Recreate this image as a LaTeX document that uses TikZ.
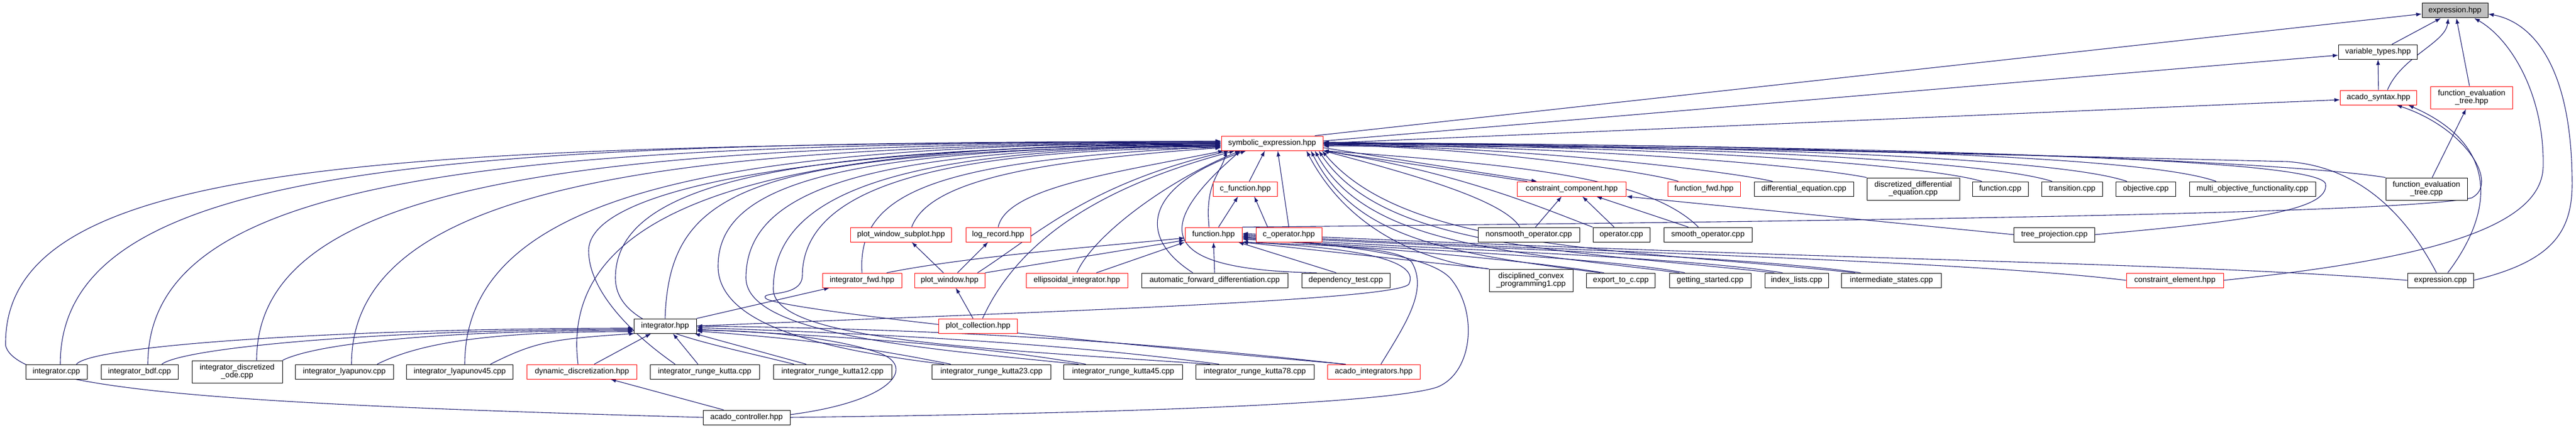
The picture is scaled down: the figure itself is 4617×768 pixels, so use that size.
\documentclass[tikz,border=0pt]{standalone}
\usepackage{fontspec}
\setmainfont{Liberation Sans}
\usetikzlibrary{arrows.meta,backgrounds}
\definecolor{edgeblue}{HTML}{191970}
\definecolor{rootgray}{HTML}{BFBFBF}
\tikzset{
  file/.style={draw=black, fill=white, line width=1pt, inner sep=0pt,
    minimum height=26pt, align=center, font=\fontsize{14}{14}\selectfont},
  redfile/.style={file, draw=red},
  rootfile/.style={file, fill=rootgray},
  twolines/.style={minimum height=40pt},
  inc/.style={draw=edgeblue, line width=1.1pt, -{Latex[length=10pt,width=7pt]}},
}
\begin{document}
\begin{tikzpicture}[x=1pt,y=-1pt]
      \useasboundingbox (0,0) rectangle (4617,768);
      \begin{scope}[on background layer]
        \fill[white] (0,0) rectangle (4617,768);
      \end{scope}
      \draw
        (4400,19) node[rootfile, minimum width=118pt] (exphpp) {expression.hpp}
        (4262,93) node[file, minimum width=141pt] (vartypes) {variable\_types.hpp}
        (4263,175) node[redfile, minimum width=137pt] (syntax) {acado\_syntax.hpp}
        (4430,175) node[redfile, twolines, minimum width=147pt] (fethpp) {function\_evaluation\\\_tree.hpp}
        (2280,257) node[redfile, minimum width=182pt] (symb) {symbolic\_expression.hpp}
        (2232,339) node[redfile, minimum width=115pt] (cfunc) {c\_function.hpp}
        (2817,339) node[redfile, minimum width=195pt] (ccomp) {constraint\_component.hpp}
        (3054,339) node[redfile, minimum width=130pt] (ffwd) {function\_fwd.hpp}
        (3233,339) node[file, minimum width=178pt] (diffeq) {differential\_equation.cpp}
        (3429,339) node[file, twolines, minimum width=166pt] (discde) {discretized\_differential\\\_equation.cpp}
        (3585,339) node[file, minimum width=100pt] (funccpp) {function.cpp}
        (3714,339) node[file, minimum width=109pt] (transcpp) {transition.cpp}
        (3846,339) node[file, minimum width=107pt] (objcpp) {objective.cpp}
        (4037,339) node[file, minimum width=226pt] (multiobj) {multi\_objective\_functionality.cpp}
        (4349,339) node[file, twolines, minimum width=146pt] (fetcpp) {function\_evaluation\\\_tree.cpp}
        (1615,421) node[redfile, minimum width=181pt] (pwsub) {plot\_window\_subplot.hpp}
        (1789,421) node[redfile, minimum width=116pt] (logrec) {log\_record.hpp}
        (2175,421) node[redfile, minimum width=102pt] (funchpp) {function.hpp}
        (2310,421) node[redfile, minimum width=118pt] (cop) {c\_operator.hpp}
        (2740,421) node[file, minimum width=182pt] (nonsmooth) {nonsmooth\_operator.cpp}
        (2906,421) node[file, minimum width=102pt] (opcpp) {operator.cpp}
        (3061,421) node[file, minimum width=158pt] (smooth) {smooth\_operator.cpp}
        (3682,421) node[file, minimum width=145pt] (treeproj) {tree\_projection.cpp}
        (1545,503) node[redfile, minimum width=142pt] (intfwd) {integrator\_fwd.hpp}
        (1702,503) node[redfile, minimum width=126pt] (plotwin) {plot\_window.hpp}
        (1930,503) node[redfile, minimum width=182pt] (ellint) {ellipsoidal\_integrator.hpp}
        (2177,503) node[file, minimum width=262pt] (autofwd) {automatic\_forward\_differentiation.cpp}
        (2412,503) node[file, minimum width=158pt] (deptest) {dependency\_test.cpp}
        (2744,503) node[file, twolines, minimum width=150pt] (dcp) {disciplined\_convex\\\_programming1.cpp}
        (2905,503) node[file, minimum width=123pt] (exportc) {export\_to\_c.cpp}
        (3065,503) node[file, minimum width=146pt] (getstart) {getting\_started.cpp}
        (3220,503) node[file, minimum width=114pt] (idxlist) {index\_lists.cpp}
        (3390,503) node[file, minimum width=179pt] (interstate) {intermediate\_states.cpp}
        (3898,503) node[redfile, minimum width=174pt] (celem) {constraint\_element.hpp}
        (4374,503) node[file, minimum width=118pt] (expcpp) {expression.cpp}
        (1192,585) node[file, minimum width=112pt] (inthpp) {integrator.hpp}
        (1753,585) node[redfile, minimum width=141pt] (plotcoll) {plot\_collection.hpp}
        (101,667) node[file, minimum width=110pt] (intcpp) {integrator.cpp}
        (250,667) node[file, minimum width=138pt] (intbdf) {integrator\_bdf.cpp}
        (425,667) node[file, twolines, minimum width=162pt] (intdode) {integrator\_discretized\\\_ode.cpp}
        (617,667) node[file, minimum width=176pt] (intlyap) {integrator\_lyapunov.cpp}
        (824,667) node[file, minimum width=191pt] (intlyap45) {integrator\_lyapunov45.cpp}
        (1043,667) node[redfile, minimum width=197pt] (dyndisc) {dynamic\_discretization.hpp}
        (1263,667) node[file, minimum width=196pt] (intrk) {integrator\_runge\_kutta.cpp}
        (1492,667) node[file, minimum width=212pt] (intrk12) {integrator\_runge\_kutta12.cpp}
        (1777,667) node[file, minimum width=213pt] (intrk23) {integrator\_runge\_kutta23.cpp}
        (2013,667) node[file, minimum width=213pt] (intrk45) {integrator\_runge\_kutta45.cpp}
        (2249,667) node[file, minimum width=212pt] (intrk78) {integrator\_runge\_kutta78.cpp}
        (2462,667) node[redfile, minimum width=166pt] (acadoint) {acado\_integrators.hpp}
        (1338,749) node[file, minimum width=156pt] (actrl) {acado\_controller.hpp};
      \begin{scope}[on background layer]
      \begin{scope}[inc]
        \draw (vartypes) to (exphpp);
        \draw ([xshift=16pt]syntax.north) .. controls +(25,-60) and +(-5,45) .. ([xshift=-12pt]exphpp.south);
        \draw (syntax) to (vartypes);
        \draw (fethpp) to (exphpp);
        \draw ([xshift=-15pt]symb.north east) to ([yshift=-6pt]exphpp.west);
        \draw ([yshift=4pt]symb.east) to ([yshift=-6pt]vartypes.west);
        \draw (symb.east) to ([yshift=-4pt]syntax.west);
        \draw (celem.east) .. controls (4300,470) and (4555,420) .. (4558,300) .. controls (4561,170) and (4500,70) .. ([xshift=-25pt]exphpp.south east);
        \draw (expcpp.east) .. controls (4570,470) and (4610,420) .. (4610,330) .. controls (4610,120) and (4540,40) .. ([yshift=-6pt]exphpp.east);
        \draw (fetcpp) to (fethpp);
        \draw ([xshift=13pt]expcpp.north) .. controls (4470,380) and (4480,260) .. ([xshift=53pt]syntax.south);
        \draw (funchpp.north east) .. controls (3200,398) and (4300,385) .. (4430,355) .. controls (4480,330) and (4420,230) .. ([xshift=32pt]syntax.south);
        \draw (treeproj.east) .. controls (4050,395) and (4175,375) .. (4168,330) .. controls (4160,290) and (3600,265) .. ([yshift=-5pt]symb.east);
        \draw (treeproj.west) to (ccomp.south east);
        \draw ([xshift=-46pt]ffwd.north) .. controls +(-40,-14) and +(300,5) .. ([yshift=-3pt]symb.east);
        \draw ([xshift=-56pt]diffeq.north) .. controls +(-60,-15) and +(400,5) .. ([yshift=-3pt]symb.east);
        \draw (discde.north west) .. controls +(-100,-20) and +(500,5) .. ([yshift=-2pt]symb.east);
        \draw ([xshift=-33pt]funccpp.north) .. controls +(-80,-25) and +(700,5) .. ([yshift=-1pt]symb.east);
        \draw ([xshift=-36pt]transcpp.north) .. controls +(-90,-30) and +(800,5) .. (symb.east);
        \draw ([xshift=-34pt]objcpp.north) .. controls +(-100,-35) and +(900,5) .. (symb.east);
        \draw ([xshift=-65pt]multiobj.north) .. controls +(-110,-40) and +(1000,5) .. ([yshift=1pt]symb.east);
        \draw (fetcpp.north west) .. controls +(-150,-25) and +(1100,5) .. ([yshift=1pt]symb.east);
        \draw ([xshift=-7pt]expcpp.north) .. controls (4320,400) and (4240,300) .. (4100,290) .. controls (3500,275) and (2900,262) .. ([yshift=2pt]symb.east);
        \draw ([yshift=-8pt]symb.east) to ([xshift=-62pt]ccomp.north);
        \draw ([xshift=-80pt]ccomp.north) to (symb.south east);
        \draw ([xshift=-16pt]nonsmooth.north) .. controls +(-30,-50) and +(150,40) .. (symb.south east);
        \draw ([xshift=12pt]nonsmooth.north) to ([xshift=-18pt]ccomp.south);
        \draw (opcpp.north west) .. controls +(-80,-30) and +(250,40) .. (symb.south east);
        \draw ([xshift=-13pt]opcpp.north) to ([xshift=19pt]ccomp.south);
        \draw ([xshift=-35pt]smooth.north) to ([xshift=44pt]ccomp.south);
        \draw ([xshift=-17pt]smooth.north) .. controls +(-90,-90) and +(350,25) .. (symb.south east);
        \draw (dcp.north west) .. controls (2560,470) and (2420,420) .. ([xshift=-30pt]symb.south east);
        \draw ([xshift=-37pt]exportc.north) .. controls (2600,455) and (2430,430) .. ([xshift=-22pt]symb.south east);
        \draw ([xshift=-55pt]getstart.north) .. controls (2700,450) and (2450,440) .. ([xshift=-15pt]symb.south east);
        \draw ([xshift=-40pt]idxlist.north) .. controls (2800,448) and (2480,445) .. ([xshift=-8pt]symb.south east);
        \draw ([xshift=-65pt]interstate.north) .. controls (2900,445) and (2520,450) .. ([xshift=-2pt]symb.south east);
        \draw (dcp.north west) to (funchpp.south east);
        \draw ([xshift=-30pt]exportc.north) .. controls (2700,462) and (2400,440) .. ([yshift=-8pt]funchpp.east);
        \draw ([xshift=-45pt]getstart.north) .. controls (2850,458) and (2450,445) .. ([yshift=-6pt]funchpp.east);
        \draw ([xshift=-25pt]idxlist.north) .. controls (3000,458) and (2500,445) .. ([yshift=-4pt]funchpp.east);
        \draw ([xshift=-55pt]interstate.north) .. controls (3100,456) and (2550,442) .. ([yshift=-2pt]funchpp.east);
        \draw (celem.west) .. controls (3500,465) and (2700,448) .. (funchpp.east);
        \draw (expcpp.west) .. controls (3900,470) and (3300,468) .. ([yshift=2pt]funchpp.east);
        \draw ([xshift=-17pt]deptest.north) to ([xshift=44pt]funchpp.south);
        \draw ([xshift=-52pt]deptest.north) .. controls (2110,485) and (2040,430) .. ([xshift=35pt]symb.south west);
        \draw (intfwd.north) .. controls +(-10,-150) and +(-500,25) .. ([yshift=-6pt]symb.west);
        \draw ([xshift=19pt]pwsub.north) .. controls +(30,-80) and +(-350,25) .. ([yshift=-8pt]symb.west);
        \draw (logrec.north) .. controls +(15,-70) and +(-200,40) .. ([xshift=5pt]symb.south west);
        \draw ([xshift=50pt]plotwin.north) .. controls (1860,420) and (1950,330) .. ([xshift=15pt]symb.south west);
        \draw ([xshift=8pt]plotcoll.north) .. controls (1830,420) and (1990,330) .. ([xshift=25pt]symb.south west);
        \draw (ellint.north) .. controls (1960,420) and (2100,320) .. ([xshift=35pt]symb.south west);
        \draw ([xshift=-39pt]autofwd.north) .. controls (2030,420) and (2060,330) .. ([xshift=45pt]symb.south west);
        \draw ([xshift=-8pt]funchpp.north) .. controls +(-8,-80) and +(-10,40) .. ([xshift=10pt]symb.south west);
        \draw ([xshift=9pt]funchpp.north) to ([xshift=-13pt]cfunc.south);
        \draw ([xshift=-38pt]cop.north) to ([xshift=16pt]cfunc.south);
        \draw ([xshift=7pt]cfunc.north) to ([xshift=-13pt]symb.south);
        \draw (cop.north) to ([xshift=10pt]symb.south);
        \draw ([xshift=-11pt]plotwin.north) to ([xshift=19pt]pwsub.south);
        \draw ([xshift=14pt]plotwin.north) to ([xshift=-18pt]logrec.south);
        \draw ([xshift=-9pt]plotcoll.north) to ([xshift=11pt]plotwin.south);
        \draw ([xshift=44pt]intfwd.north) .. controls +(150,-30) and +(-150,15) .. ([yshift=-6pt]funchpp.west);
        \draw (plotwin.north east) to ([yshift=-10pt]funchpp.west);
        \draw ([xshift=35pt]ellint.north) to (funchpp.south west);
        \draw (autofwd.north) to (funchpp.south);
        \draw (inthpp.north) .. controls (1200,330) and (1350,270) .. ([yshift=-4pt]symb.west);
        \draw (inthpp.north east) to ([xshift=-58pt]intfwd.south);
        \draw (inthpp.east) .. controls (1800,562) and (2500,540) .. (2525,510) .. controls (2545,470) and (2450,445) .. (funchpp.south east);
        \draw ([yshift=5pt]actrl.east) .. controls (1600,720) and (1640,660) .. (1580,635) .. controls (1500,605) and (1350,592) .. ([yshift=-8pt]inthpp.east);
        \draw (actrl.east) .. controls (2000,742) and (2480,725) .. (2575,695) .. controls (2640,670) and (2650,560) .. (2600,500) .. controls (2560,455) and (2400,440) .. ([yshift=-4pt]funchpp.east);
        \draw ([xshift=13pt]acadoint.north) .. controls (2520,580) and (2560,520) .. (2530,470) .. controls (2500,440) and (2350,440) .. (funchpp.south east);
        \draw ([xshift=-41pt]actrl.north) to ([xshift=51pt]dyndisc.south);
        \draw ([xshift=36pt]intcpp.north) .. controls +(30,-35) and +(-500,0) .. ([yshift=-4pt]inthpp.west);
        \draw ([xshift=40pt]intbdf.north) .. controls +(40,-30) and +(-450,0) .. ([yshift=-6pt]inthpp.west);
        \draw (intdode.north east) .. controls +(60,-30) and +(-350,0) .. ([yshift=-8pt]inthpp.west);
        \draw ([xshift=59pt]intlyap.north) .. controls +(80,-40) and +(-250,0) .. ([yshift=-10pt]inthpp.west);
        \draw ([xshift=55pt]intlyap45.north) .. controls +(80,-40) and +(-150,10) .. ([xshift=2pt]inthpp.south west);
        \draw ([xshift=22pt]dyndisc.north) to ([xshift=-25pt]inthpp.south);
        \draw ([xshift=-12pt]intrk.north) to ([xshift=14pt]inthpp.south);
        \draw ([xshift=-47pt]intrk12.north) to ([xshift=-4pt]inthpp.south east);
        \draw ([xshift=-73pt]intrk23.north) .. controls +(-150,-30) and +(200,15) .. ([yshift=-9pt]inthpp.east);
        \draw ([xshift=-67pt]intrk45.north) .. controls +(-200,-35) and +(250,12) .. ([yshift=-6pt]inthpp.east);
        \draw ([xshift=-64pt]intrk78.north) .. controls +(-300,-40) and +(300,10) .. ([yshift=-3pt]inthpp.east);
        \draw ([xshift=-53pt]acadoint.north) .. controls +(-400,-45) and +(400,5) .. (inthpp.east);
        \draw (actrl.west) .. controls (400,725) and (30,700) .. (10,620) .. controls (5,280) and (700,262) .. ([yshift=4pt]symb.west);
        \draw ([xshift=7pt]intcpp.north) .. controls +(0,-360) and +(-1400,0) .. ([yshift=3pt]symb.west);
        \draw ([xshift=15pt]intbdf.north) .. controls +(0,-340) and +(-1300,0) .. ([yshift=2pt]symb.west);
        \draw ([xshift=35pt]intdode.north) .. controls +(0,-320) and +(-1150,0) .. ([yshift=1pt]symb.west);
        \draw ([xshift=13pt]intlyap.north) .. controls +(0,-320) and +(-1000,0) .. (symb.west);
        \draw ([xshift=9pt]intlyap45.north) .. controls +(0,-320) and +(-850,0) .. (symb.west);
        \draw ([xshift=-7pt]dyndisc.north) .. controls +(-40,-320) and +(-700,0) .. ([yshift=-1pt]symb.west);
        \draw ([xshift=-53pt]intrk.north) .. controls +(-100,-70) and +(0,60) .. (1055,450) .. controls +(0,-130) and +(-600,0) .. ([yshift=-2pt]symb.west);
        \draw ([xshift=-69pt]intrk12.north) .. controls (1250,610) and (1105,590) .. (1103,500) .. controls (1102,330) and (1400,262) .. ([yshift=-3pt]symb.west);
        \draw ([xshift=-85pt]intrk23.north) .. controls (1500,630) and (1290,590) .. (1287,480) .. controls (1285,330) and (1500,265) .. ([yshift=-4pt]symb.west);
        \draw ([xshift=-80pt]intrk45.north) .. controls (1650,625) and (1340,600) .. (1337,500) .. controls (1336,340) and (1550,265) .. ([yshift=-5pt]symb.west);
        \draw ([xshift=-80pt]intrk78.north) .. controls (1750,625) and (1390,610) .. (1386,520) .. controls (1385,350) and (1600,265) .. ([yshift=-6pt]symb.west);
        \draw ([xshift=-50pt]acadoint.north) .. controls (1800,600) and (1385,552) .. (1372,535) .. controls (1362,522) and (1437,535) .. (1438,495) .. controls (1439,330) and (1700,268) .. ([yshift=-8pt]symb.west);
      \end{scope}
      \end{scope}
    \end{tikzpicture}
\end{document}
